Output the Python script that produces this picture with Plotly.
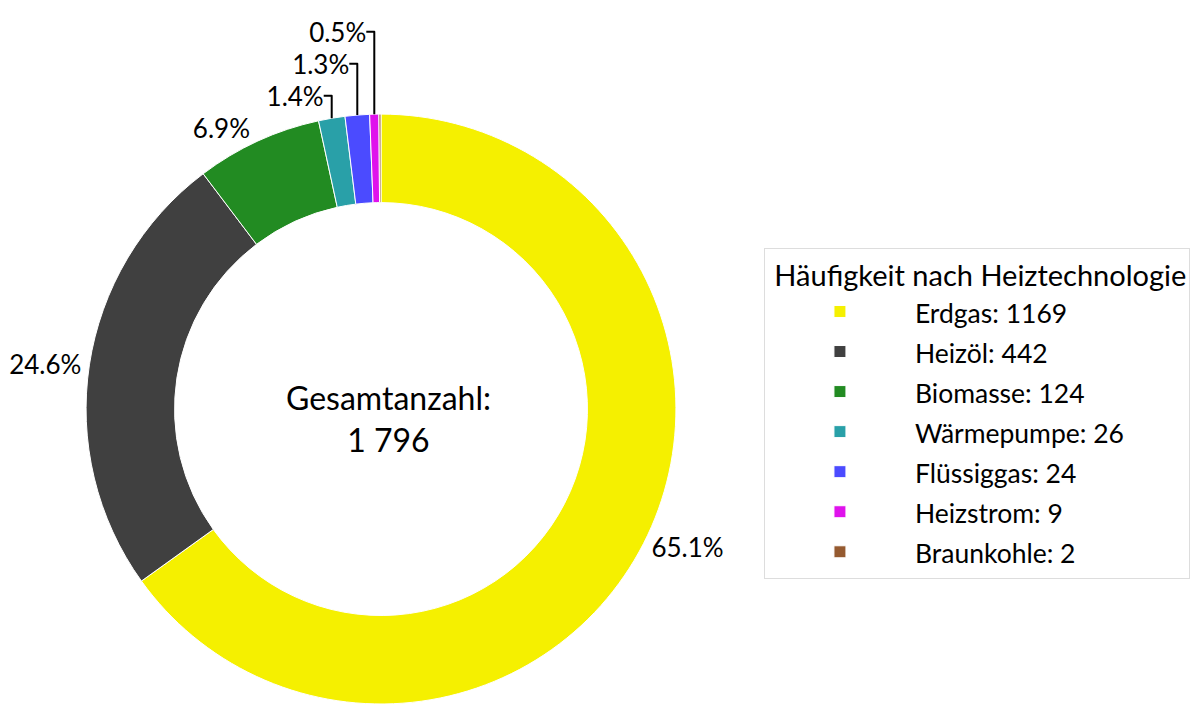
import plotly.graph_objects as go

# Heating technology counts
technologies = ["Erdgas", "Heizöl", "Biomasse", "Wärmepumpe", "Flüssiggas", "Heizstrom", "Braunkohle"]
counts = [1169, 442, 124, 26, 24, 9, 2]
colors = ["#f5f000", "#404040", "#228b22", "#29a0a8", "#4b4bff", "#df12ec", "#955a30"]

total = sum(counts)
# legend row height follows the legend font size, so text is drawn a bit smaller
legend_labels = [f"<span style='font-size:26.5px'>{t}: {c}</span>" for t, c in zip(technologies, counts)]
# smallest slice gets no percent label
text_templates = ["%{percent:.1%}"] * (len(counts) - 1) + [""]

font_family = "Lato, Open Sans, sans-serif"

fig = go.Figure()
fig.add_trace(go.Pie(
    labels=legend_labels,
    values=counts,
    sort=False,
    direction="clockwise",
    rotation=0,
    hole=0.70,
    marker=dict(colors=colors, line=dict(color="white", width=1)),
    texttemplate=text_templates,
    textposition="outside",
    textfont=dict(size=26, color="black", family=font_family),
    hoverinfo="label+percent",
    domain=dict(x=[0.0651, 0.5576], y=[0.0142, 0.8497]),
))

fig.add_annotation(
    x=0.318, y=0.418, xref="paper", yref="paper",
    xanchor="center", yanchor="middle",
    text=f"Gesamtanzahl:<br>{total // 1000} {total % 1000:03d}",
    showarrow=False,
    font=dict(size=32, color="black", family=font_family),
)

fig.update_layout(
    width=1198, height=706,
    margin=dict(l=0, r=0, t=0, b=0, autoexpand=False),
    paper_bgcolor="white",
    plot_bgcolor="white",
    font=dict(family=font_family, color="black"),
    legend=dict(
        title=dict(text="\u00a0Häufigkeit nach Heiztechnologie", font=dict(size=29)),
        font=dict(size=28.5),
        x=0.631, xanchor="left",
        y=0.426, yanchor="middle",
        bordercolor="#dddddd", borderwidth=1,
        itemwidth=140,
    ),
)

fig.write_html("out.html")
